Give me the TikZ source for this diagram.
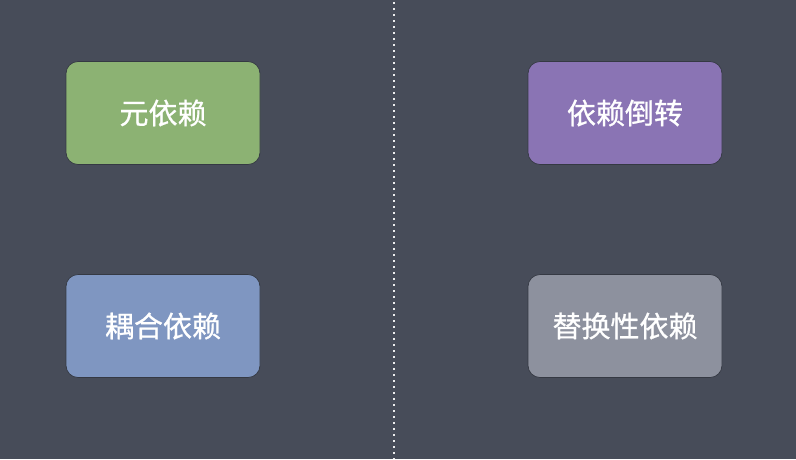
\documentclass[tikz,border=0pt]{standalone}
\usepackage{fontspec}
\newfontfamily\cjk[FakeBold=0.8]{Noto Sans CJK SC}
\definecolor{bgc}{HTML}{474C59}
\definecolor{gbox}{HTML}{8CB273}
\definecolor{pbox}{HTML}{8A74B4}
\definecolor{bbox}{HTML}{7F96C1}
\definecolor{ybox}{HTML}{8D919E}
\tikzset{
  card/.style={rounded corners=12pt, minimum width=194pt, minimum height=103pt,
    draw=black!25!bgc, line width=0.7pt, text=white, font=\cjk\fontsize{29}{32}\selectfont, inner sep=0pt},
  divider/.style={draw=white!90!bgc, line width=1.6pt, dash pattern=on 1.6pt off 4.4pt}
}
\begin{document}
\begin{tikzpicture}[x=1pt,y=-1pt]
  \fill[bgc] (0,0) rectangle (796,459);
  \useasboundingbox (0,0) rectangle (796,459);
  \coordinate (top) at (394,2);
  \coordinate (bot) at (394,459);
  \draw[divider] (top) -- (bot);
  \node[card, fill=gbox] (a) at (163,113) {元依赖};
  \node[card, fill=pbox] (b) at (625,113) {依赖倒转};
  \node[card, fill=bbox] (c) at (163,326) {耦合依赖};
  \node[card, fill=ybox] (d) at (625,326) {替换性依赖};
\end{tikzpicture}
\end{document}
